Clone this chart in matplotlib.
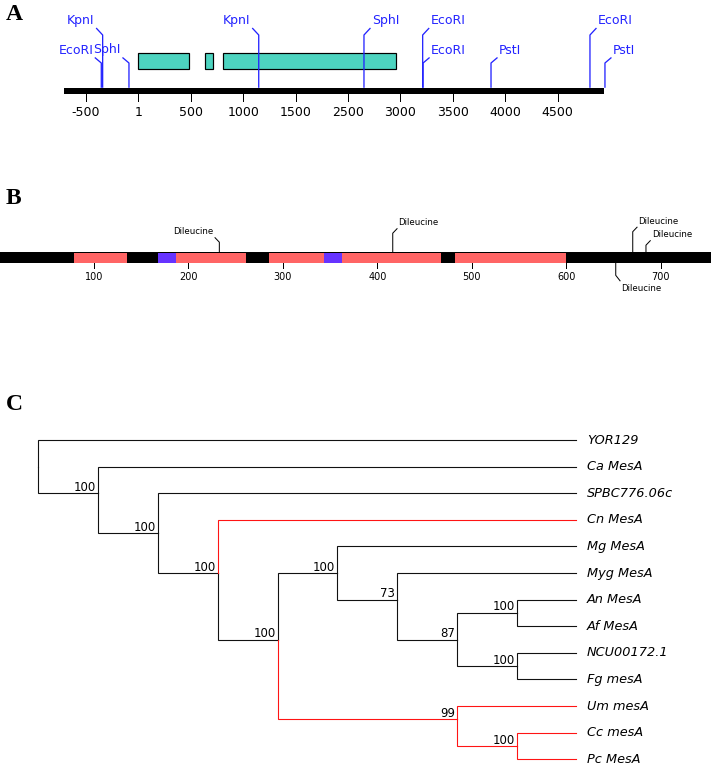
import matplotlib
matplotlib.use('Agg')
import matplotlib.pyplot as plt
from matplotlib.patches import Rectangle

# ---------------- data ----------------
# Panel A: genomic map (bp)
a_tick_pos = [-500, 0, 500, 1000, 1500, 2000, 2500, 3000, 3500, 4000]
a_tick_labels = ['-500', '1', '500', '1000', '1500', '2500', '3000', '3500', '4000', '4500']
a_map_start = -707
a_map_end = 4442
a_exon_start = [0, 632, 810]
a_exon_end = [486, 709, 2457]
a_site_names = ['EcoRI', 'KpnI', 'SphI', 'KpnI', 'SphI', 'EcoRI', 'EcoRI', 'PstI', 'EcoRI', 'PstI']
a_site_pos = [-354, -341, -90, 1148, 2152, 2712, 2716, 3364, 4308, 4451]

# Panel B: protein (aa)
b_tick_pos = [100, 200, 300, 400, 500, 600, 700]
b_length = 760
b_tm_start = [78.8, 186.5, 285, 362.9, 482.5]
b_tm_end = [134.9, 260.6, 343.8, 467.1, 599.4]
b_blue_start = [167.8, 343.8]
b_blue_end = [186.5, 362.9]
b_motif_pos = [232.7, 416.3, 652.4, 670.4, 684.4]
b_motif_name = 'Dileucine'

# Panel C: tree
c_leaves = ['YOR129', 'Ca MesA', 'SPBC776.06c', 'Cn MesA', 'Mg MesA', 'Myg MesA',
            'An MesA', 'Af MesA', 'NCU00172.1', 'Fg mesA', 'Um mesA', 'Cc mesA', 'Pc MesA']
c_node_names = ['n0', 'n1', 'n2', 'n3', 'n4', 'n5', 'n6', 'n7', 'n8', 'n9', 'n10', 'n11']
c_node_level = [0, 1, 2, 3, 4, 5, 6, 7, 8, 8, 7, 8]
c_node_y = [1.0, 2.0, 3.5, 5.0, 7.5, 5.0, 6.0, 7.5, 6.5, 8.5, 10.5, 11.5]
c_node_children = [['YOR129', 'n1'], ['Ca MesA', 'n2'], ['SPBC776.06c', 'n3'],
                   ['Cn MesA', 'n4'], ['n5', 'n10'], ['Mg MesA', 'n6'],
                   ['Myg MesA', 'n7'], ['n8', 'n9'], ['An MesA', 'Af MesA'],
                   ['NCU00172.1', 'Fg mesA'], ['Um mesA', 'n11'], ['Cc mesA', 'Pc MesA']]
c_bootstrap = [None, '100', '100', '100', '100', '100', '73', '87', '100', '100', '99', '100']
c_red = ['Cn MesA', 'n10', 'Um mesA', 'n11', 'Cc mesA', 'Pc MesA']
c_leaf_level = 9

# ---------------- layout / style ----------------
W, H = 711, 766
PX = 0.72  # one pixel in points
fig = plt.figure(figsize=(W / 100, H / 100), dpi=100)

BLUE = '#2323ff'
TEAL = '#4dd4c0'
RED_B = '#ff6565'
BLUE_B = '#6633ff'
RED_T = '#ff1414'

a_site_tier = [0, 1, 0, 1, 1, 1, 0, 0, 1, 0]
a_site_side = [-1, -1, -1, -1, 1, 1, 1, 1, 1, 1]
b_motif_side = [-1, 1, 1, 1, 1]
b_motif_stem = [10, 19, -12, 20.5, 7]


def band(y0, y1, xlim, ylim=None):
    ax = fig.add_axes([0, 1 - y1 / H, 1, (y1 - y0) / H])
    ax.set_xlim(*xlim)
    if ylim is None:
        ax.set_ylim(y1, y0)
    else:
        ax.set_ylim(*ylim)
    ax.set_axis_off()
    return ax

# ---------- Panel A ----------
sa = 52.41 / 500.0
a0 = 138.4
axA = band(0, 135, ((0 - a0) / sa, (W - a0) / sa))
dA = lambda p: p / sa
axA.add_patch(Rectangle((a_map_start, 87.8), a_map_end - a_map_start, 6.6,
                        facecolor='black', edgecolor='none'))
for t, lab in zip(a_tick_pos, a_tick_labels):
    axA.plot([t, t], [94, 100.5], color='black', lw=1 * PX)
    axA.text(t, 113, lab, ha='center', va='center', fontsize=9, color='black')
for s, e in zip(a_exon_start, a_exon_end):
    axA.add_patch(Rectangle((s, 52.7), e - s, 16.6, facecolor=TEAL,
                            edgecolor='black', lw=1.2 * PX))
for name, pos, tier, side in zip(a_site_names, a_site_pos, a_site_tier, a_site_side):
    top = 35 if tier else 63
    ey = 28 if tier else 57.5
    ex = pos + side * dA(6.5)
    axA.plot([pos, pos, ex], [87.8, top, ey], color=BLUE, lw=1.3 * PX,
             solid_capstyle='butt')
    axA.text(ex + side * dA(1.5), ey - 7.5, name, ha='left' if side > 0 else 'right',
             va='center', fontsize=9, color=BLUE)

# ---------- Panel B ----------
sb = 0.9445
b0 = -0.45
axB = band(195, 300, ((0 - b0) / sb, (W - b0) / sb))
dB = lambda p: p / sb
axB.add_patch(Rectangle((0, 252.2), b_length, 11.1, facecolor='black', edgecolor='none'))
for s, e in zip(b_tm_start, b_tm_end):
    axB.add_patch(Rectangle((s, 252.9), e - s, 10.2, facecolor=RED_B, edgecolor='none'))
for s, e in zip(b_blue_start, b_blue_end):
    axB.add_patch(Rectangle((s, 252.9), e - s, 10.2, facecolor=BLUE_B, edgecolor='none'))
for t in b_tick_pos:
    axB.plot([t, t], [263.3, 268.3], color='black', lw=1 * PX)
    axB.text(t, 277, str(t), ha='center', va='center', fontsize=7, color='black')
for pos, side, stem in zip(b_motif_pos, b_motif_side, b_motif_stem):
    ex = pos + side * dB(4.3)
    if stem > 0:
        y0 = 252.2
        top = y0 - stem
        ey = top - 4.5
        ly = ey - 5.8
    else:
        y0 = 263.3
        top = y0 - stem
        ey = top + 5.5
        ly = ey + 7.3
    axB.plot([pos, pos, ex], [y0, top, ey], color='black', lw=1 * PX)
    axB.text(ex + side * dB(1.5), ly, b_motif_name, ha='left' if side > 0 else 'right',
             va='center', fontsize=6.2, color='black')

# ---------- Panel C ----------
cx0, csx = 38.3, 59.8
cy0, csy = 440.0, 26.61
axC = band(420, 766, ((0 - cx0) / csx, (W - cx0) / csx),
           ylim=((766 - cy0) / csy, (420 - cy0) / csy))
pos_of = {}
for i, name in enumerate(c_leaves):
    pos_of[name] = (c_leaf_level, i)
for name, lev, y in zip(c_node_names, c_node_level, c_node_y):
    pos_of[name] = (lev, y)

edges_black, edges_red = [], []
for pname, kids in zip(c_node_names, c_node_children):
    px_, py_ = pos_of[pname]
    for k in kids:
        kx, ky = pos_of[k]
        (edges_red if k in c_red else edges_black).append(([px_, px_, kx], [py_, ky, ky]))
for xs, ys in edges_black:
    axC.plot(xs, ys, color='#111111', lw=1.1 * PX, solid_joinstyle='miter')
for xs, ys in edges_red:
    axC.plot(xs, ys, color=RED_T, lw=1.1 * PX, solid_joinstyle='miter')
for name, bs in zip(c_node_names, c_bootstrap):
    if bs is None:
        continue
    lx, ly = pos_of[name]
    axC.text(lx - 2.0 / csx, ly - 6.0 / csy, bs, ha='right', va='center',
             fontsize=8.5, color='black')
for i, name in enumerate(c_leaves):
    axC.text(c_leaf_level + 10.3 / csx, i, name, ha='left', va='center',
             fontsize=9.3, style='italic', color='black')

# ---------- panel letters ----------
for lab, yc in [('A', 14), ('B', 198), ('C', 405)]:
    fig.text(6 / W, 1 - yc / H, lab, ha='left', va='center', fontsize=17,
             fontweight='bold', family='Liberation Serif')

fig.savefig('out.png', dpi=100)
